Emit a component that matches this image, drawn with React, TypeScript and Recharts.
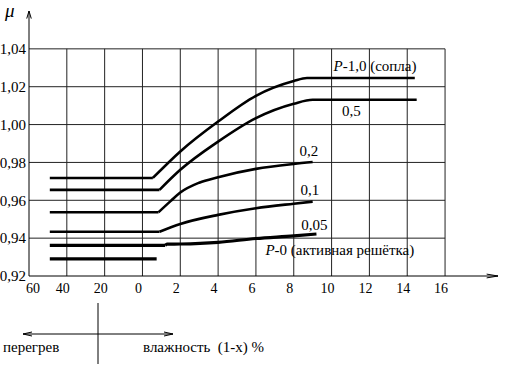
import React from 'react';
import { LineChart, Line, XAxis, YAxis, ReferenceLine, ReferenceDot } from 'recharts';

const FONT = "'Liberation Serif', 'Times New Roman', Times, serif";

// x axis: left part is superheat (60..0), right part is moisture (1-x) % (0..16)
const xTickLabels = ['60', '40', '20', '0', '2', '4', '6', '8', '10', '12', '14', '16'];
const yTicks = [0.92, 0.94, 0.96, 0.98, 1.0, 1.02, 1.04];

// negative x = superheat, positive x = moisture %
const startX = -49;

const p10X = [0.55, 2, 4, 6, 8, 8.7, 14.4];
const p10Y = [0.9718, 0.9858, 1.0016, 1.0152, 1.023, 1.0246, 1.0246];
const p05X = [0.9, 2, 4, 6, 8, 9.0, 14.5];
const p05Y = [0.9655, 0.9761, 0.991, 1.0034, 1.011, 1.0131, 1.0131];
const p02X = [0.85, 1.5, 2, 3, 4, 6, 8, 9.0];
const p02Y = [0.9537, 0.9597, 0.9641, 0.9693, 0.9722, 0.9766, 0.9792, 0.9802];
const p01X = [0.9, 2, 4, 6, 8, 9.0];
const p01Y = [0.9434, 0.9475, 0.9523, 0.9558, 0.9582, 0.9593];
const p005X = [1.2, 1.3, 2, 4, 6, 8, 9.2];
const p005Y = [0.9362, 0.9368, 0.9369, 0.9378, 0.9398, 0.9412, 0.9422];
const p0X = [0.75];
const p0Y = [0.929];

const curveLabels = [
  { p: 'P', text: '-1,0 (сопла)', x: 10.1, y: 1.0311 },
  { p: '', text: '0,5', x: 10.55, y: 1.0074 },
  { p: '', text: '0,2', x: 8.3, y: 0.9861 },
  { p: '', text: '0,1', x: 8.35, y: 0.9655 },
  { p: '', text: '0,05', x: 8.4, y: 0.947 },
  { p: 'P', text: '-0 (активная решётка)', x: 6.5, y: 0.9338 },
];

// map superheat / moisture to the position along the drawn axis
const pos = (v: number) => (v < 0 ? 3 + v / 20 : 3 + v / 2);

const makeSeries = (xs: number[], ys: number[]) => ({
  flat: [
    { x: pos(startX), y: ys[0] },
    { x: pos(xs[0]), y: ys[0] },
  ],
  curve: xs.length > 1 ? xs.map((x, i) => ({ x: pos(x), y: ys[i] })) : null,
});

const series = [
  { ...makeSeries(p10X, p10Y), w: 2.6 },
  { ...makeSeries(p05X, p05Y), w: 2.6 },
  { ...makeSeries(p02X, p02Y), w: 2.6 },
  { ...makeSeries(p01X, p01Y), w: 2.6 },
  { ...makeSeries(p005X, p005Y), w: 3.2 },
  { ...makeSeries(p0X, p0Y), w: 3.2 },
];

const xTicks = xTickLabels.map((_, i) => i);
const X_MAX = 12.4;
const Y_MIN = 0.92;
const Y_MAX = 1.06;
const GRID_TOP = 1.04;
const GRID_RIGHT = 11;

const XTick = (props: any) => {
  const { x, y, payload } = props;
  const i = payload.value as number;
  return (
    <text x={x + (i === 0 ? 4 : -4)} y={y} dy="0.71em" textAnchor="middle"
      fontFamily={FONT} fontSize={14} fill="#000">
      {xTickLabels[i]}
    </text>
  );
};

const lineStyle = { stroke: '#000', strokeWidth: 1 };

export default function App() {
  return (
    <div style={{ position: 'absolute', left: 0, top: 0, width: 529, height: 379, background: '#fff', fontFamily: FONT }}>
      <LineChart width={529} height={379} margin={{ top: 11, right: 31, bottom: 73, left: 0 }}>
        <XAxis
          type="number"
          dataKey="x"
          domain={[0, X_MAX]}
          ticks={xTicks}
          interval={0}
          allowDataOverflow
          height={30}
          tickLine={false}
          tickSize={0}
          tickMargin={7}
          axisLine={lineStyle}
          tick={<XTick />}
        />
        <YAxis
          type="number"
          dataKey="y"
          domain={[Y_MIN, Y_MAX]}
          ticks={yTicks}
          interval={0}
          allowDataOverflow
          width={29}
          tickLine={false}
          tickSize={0}
          tickMargin={3}
          axisLine={lineStyle}
          tick={{ fontFamily: FONT, fontSize: 15, fill: '#000' }}
          tickFormatter={(v: number) => v.toFixed(2).replace('.', ',')}
        />

        {yTicks.slice(1).map((v) => (
          <ReferenceLine key={'h' + v} segment={[{ x: 0, y: v }, { x: GRID_RIGHT, y: v }]}
            stroke="#222" strokeWidth={1} ifOverflow="visible" />
        ))}
        {xTicks.slice(1).map((v) => (
          <ReferenceLine key={'v' + v} segment={[{ x: v, y: Y_MIN }, { x: v, y: GRID_TOP }]}
            stroke="#222" strokeWidth={1} ifOverflow="visible" />
        ))}

        {/* axis arrows */}
        <ReferenceLine segment={[{ x: -0.06, y: Y_MAX - 0.004 }, { x: 0, y: Y_MAX }]} stroke="#000" ifOverflow="visible" />
        <ReferenceLine segment={[{ x: 0.06, y: Y_MAX - 0.004 }, { x: 0, y: Y_MAX }]} stroke="#000" ifOverflow="visible" />
        <ReferenceLine segment={[{ x: X_MAX - 0.3, y: Y_MIN + 0.001 }, { x: X_MAX, y: Y_MIN }]} stroke="#000" ifOverflow="visible" />
        <ReferenceLine segment={[{ x: X_MAX - 0.3, y: Y_MIN - 0.001 }, { x: X_MAX, y: Y_MIN }]} stroke="#000" ifOverflow="visible" />

        {series.map((s, i) => (
          <Line key={'f' + i} data={s.flat} dataKey="y" type="linear" stroke="#000" strokeWidth={s.w}
            dot={false} activeDot={false} isAnimationActive={false} />
        ))}
        {series.filter((s) => s.curve).map((s, i) => (
          <Line key={'c' + i} data={s.curve as any} dataKey="y" type="monotoneX" stroke="#000" strokeWidth={s.w}
            dot={false} activeDot={false} isAnimationActive={false} />
        ))}

        {curveLabels.map((l, i) => (
          <ReferenceDot key={'l' + i} x={pos(l.x)} y={l.y} r={0} ifOverflow="visible"
            shape={(p: any) => (
              <text x={p.cx} y={p.cy} dy="0.35em" fontFamily={FONT} fontSize={15} fill="#000">
                {l.p && <tspan fontStyle="italic">{l.p}</tspan>}
                {l.text}
              </text>
            )}
          />
        ))}
      </LineChart>

      <svg width={529} height={379} style={{ position: 'absolute', left: 0, top: 0, pointerEvents: 'none' }}>
        <text x={5} y={17} fontFamily={FONT} fontSize={19} fontStyle="italic" fill="#000">μ</text>
        <line x1={98} y1={303} x2={98} y2={364} stroke="#000" strokeWidth={1} />
        <line x1={23} y1={334} x2={173} y2={334} stroke="#000" strokeWidth={1} />
        <polyline points="32,332 23,334 32,336" fill="none" stroke="#000" strokeWidth={1} />
        <polyline points="164,332 173,334 164,336" fill="none" stroke="#000" strokeWidth={1} />
        <text x={3} y={352} fontFamily={FONT} fontSize={15} fill="#000">перегрев</text>
        <text x={143} y={352} fontFamily={FONT} fontSize={15} fill="#000" style={{ whiteSpace: 'pre' }}>влажность  (1-x) %</text>
      </svg>
    </div>
  );
}
